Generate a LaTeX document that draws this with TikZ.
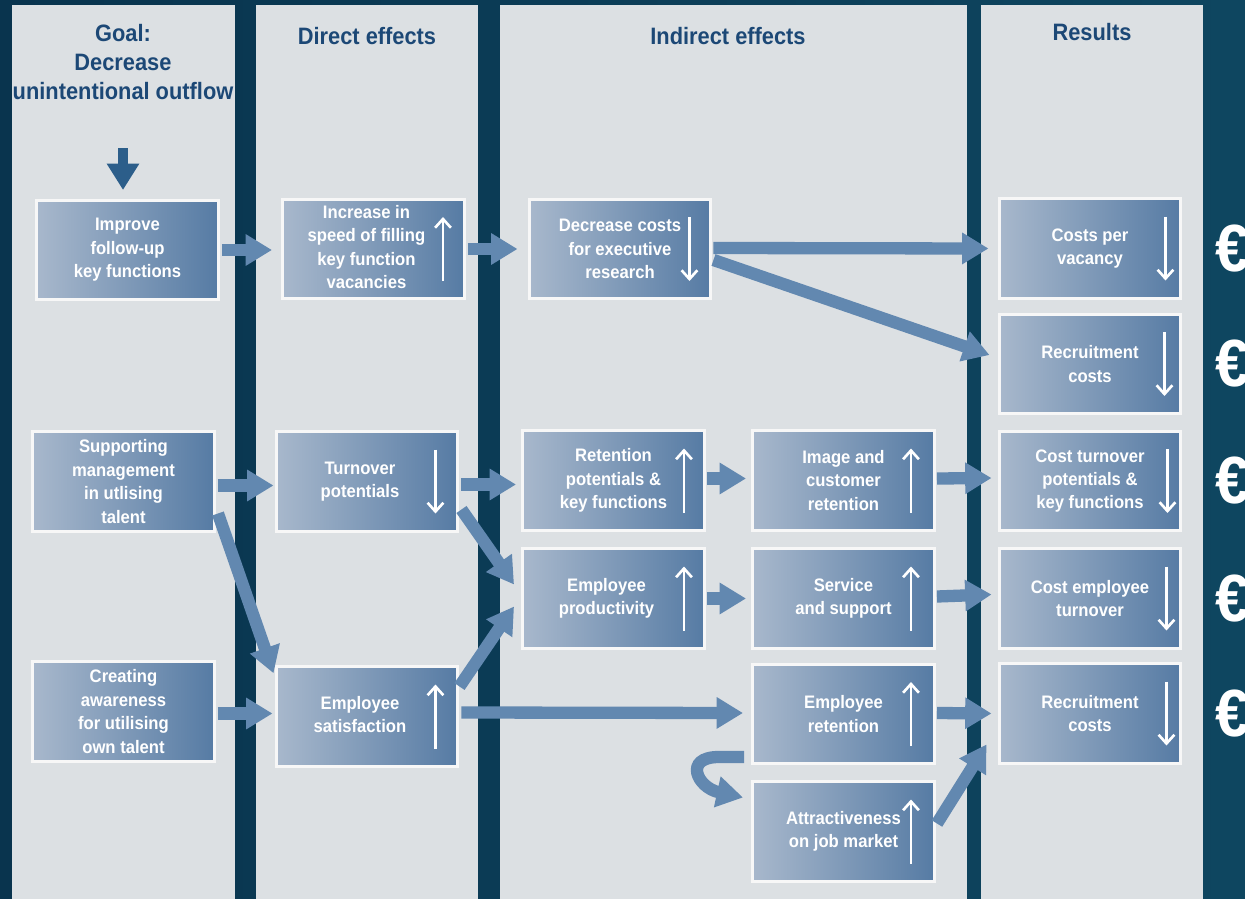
\documentclass[tikz,border=0pt]{standalone}
\usepackage{fontspec}
\setmainfont[FakeStretch=0.92]{Liberation Sans}
\usetikzlibrary{arrows.meta,calc}

\definecolor{navyl}{RGB}{9,52,78}
\definecolor{navyr}{RGB}{14,70,96}
\definecolor{colgray}{RGB}{220,224,227}
\definecolor{boxl}{RGB}{168,184,204}
\definecolor{boxr}{RGB}{86,123,164}
\definecolor{flowblue}{RGB}{98,136,176}
\definecolor{goalblue}{RGB}{44,94,138}
\definecolor{headblue}{RGB}{28,72,118}

% small white trend arrows inside a box
\newcommand{\uptick}[2][22]{\draw[tickarrow] ($(#2.east)+(-#1,32)$) -- ($(#2.east)+(-#1,-32)$);}
\newcommand{\downtick}[2][22]{\draw[tickarrow] ($(#2.east)+(-#1,-32)$) -- ($(#2.east)+(-#1,32)$);}
% box text pushed a little to the left of the trend arrow
\newcommand{\leftset}[1]{\begin{tabular}{@{}c@{\hspace{8pt}}}#1\end{tabular}}

\begin{document}
\begin{tikzpicture}[
  x=0.02cm,
  y=-0.02cm,
  box/.style={draw=white!94!gray, line width=1.7pt, left color=boxl, right color=boxr,
              minimum width=3.64cm, minimum height=1.99cm, inner sep=0pt,
              align=center, text=white, font=\fontsize{10.3}{13.3}\selectfont\bfseries},
  flow/.style={draw=flowblue, line width=7pt, -{Triangle[width=17pt,length=15pt]}},
  goalflow/.style={draw=goalblue, line width=5.7pt, -{Triangle[width=17.5pt,length=15pt]}},
  tickarrow/.style={draw=white, line width=1.5pt, -{Straight Barb[length=5pt,width=9pt]}},
  head/.style={text=headblue, align=center, font=\fontsize{13.5}{16.4}\selectfont\bfseries},
  euro/.style={text=white, anchor=west, inner sep=0pt, font=\fontsize{38}{38}\selectfont\bfseries}
]
\useasboundingbox (0,0) rectangle (1245,899);

% background and the four columns
\shade[left color=navyl, right color=navyr] (0,0) rectangle (1245,899);
\fill[colgray] (12,5) rectangle (235,899);
\fill[colgray] (256,5) rectangle (478,899);
\fill[colgray] (500,5) rectangle (967,899);
\fill[colgray] (981,5) rectangle (1203,899);

% column headings
\node[head] (goal) at (123,62) {Goal:\\Decrease\\unintentional outflow};
\node[head] (direct) at (367,36) {Direct effects};
\node[head] (indirect) at (728,36) {Indirect effects};
\node[head] (results) at (1092,32) {Results};

% goal column
\node[box] (improve) at (127.5,250) {Improve\\follow-up\\key functions};
\node[box] (support) at (123.5,481.5) {Supporting\\management\\in utlising\\talent};
\node[box] (aware) at (123.5,711.5) {Creating\\awareness\\for utilising\\own talent};

% direct effects
\node[box] (speed) at (373.5,249) {\leftset{Increase in\\speed of filling\\key function\\vacancies}};
\node[box] (turnover) at (367,481.5) {\leftset{Turnover\\potentials}};
\node[box] (satisf) at (367,716.5) {\leftset{Employee\\satisfaction}};

% indirect effects
\node[box] (exec) at (620,249) {Decrease costs\\for executive\\research};
\node[box] (retpot) at (613.5,480.5) {Retention\\potentials \&\\key functions};
\node[box] (prod) at (613.5,598.5) {\leftset{Employee\\productivity}};
\node[box] (image) at (843.5,480.5) {Image and\\customer\\retention};
\node[box] (service) at (843.5,598.5) {Service\\and support};
\node[box] (empret) at (843.5,714) {Employee\\retention};
\node[box] (attract) at (843.5,831.5) {Attractiveness\\on job market};

% results
\node[box] (costvac) at (1090,248.5) {Costs per\\vacancy};
\node[box] (recruitA) at (1090,364) {Recruitment\\costs};
\node[box] (costturn) at (1090,481) {Cost turnover\\potentials \&\\key functions};
\node[box] (costemp) at (1090,598.5) {Cost employee\\turnover};
\node[box] (recruitB) at (1090,713.5) {Recruitment\\costs};

% euro signs
\node[euro] (eur1) at (1215,248.5) {€};
\node[euro] (eur2) at (1215,364) {€};
\node[euro] (eur3) at (1215,481) {€};
\node[euro] (eur4) at (1215,598.5) {€};
\node[euro] (eur5) at (1215,713.5) {€};

% trend arrows
\uptick[23]{speed}
\downtick[23]{exec}
\downtick[24]{turnover}
\uptick[24]{satisf}
\uptick{retpot}
\uptick{prod}
\uptick[25]{image}
\uptick[25]{service}
\uptick[25]{empret}
\uptick[25]{attract}
\downtick[17]{costvac}
\downtick[18]{recruitA}
\downtick[15]{costturn}
\downtick[16]{costemp}
\downtick[16]{recruitB}

% goal arrow
\coordinate (goaltail) at (123,148);
\coordinate (goaltip) at (123,190);
\draw[goalflow] (goaltail) -- (goaltip);

% effect chains
\draw[flow] ($(improve.east)+(2,0)$) -- ($(speed.west)+(-9,1)$);
\draw[flow] ($(speed.east)+(2,0)$) -- ($(exec.west)+(-10,0)$);
\draw[flow] ($(exec.east)+(1,-1)$) -- ($(costvac.west)+(-9,0)$);
\draw[flow] ($(exec.east)+(1,11)$) -- ($(recruitA.west)+(-8,-9)$);
\draw[flow] ($(support.east)+(2,4)$) -- ($(turnover.west)+(-1,4)$);
\draw[flow] ($(support.east)+(2,32)$) -- ($(satisf.north west)+(-1,8)$);
\draw[flow] ($(aware.east)+(2,2)$) -- ($(satisf.west)+(-2,-3)$);
\draw[flow] ($(turnover.east)+(2,3)$) -- ($(retpot.west)+(-5,4)$);
\draw[flow] ($(turnover.east)+(2,28)$) -- ($(prod.west)+(-7,-14)$);
\draw[flow] ($(satisf.east)+(0,-30)$) -- ($(prod.west)+(-7,8)$);
\draw[flow] ($(satisf.east)+(2,-4)$) -- ($(empret.west)+(-8,-1)$);
\draw[flow] ($(retpot.east)+(1,-2)$) -- ($(image.west)+(-5,-2)$);
\draw[flow] ($(prod.east)+(1,0)$) -- ($(service.west)+(-5,0)$);
\draw[flow] ($(image.east)+(1,-2)$) -- ($(costturn.west)+(-6,-3)$);
\draw[flow] ($(service.east)+(1,-2)$) -- ($(costemp.west)+(-6,-4)$);
\draw[flow] ($(empret.east)+(1,-1)$) -- ($(recruitB.west)+(-6,0)$);
\draw[flow] ($(attract.east)+(1,-8)$) -- ($(recruitB.west)+(-11,31)$);
\draw[flow] ($(empret.west)+(-7,43)$) -- ++(-25,0)
  .. controls +(-36,0) and +(-46,-10) .. ($(attract.west)+(-8,-34)$);
\end{tikzpicture}
\end{document}
